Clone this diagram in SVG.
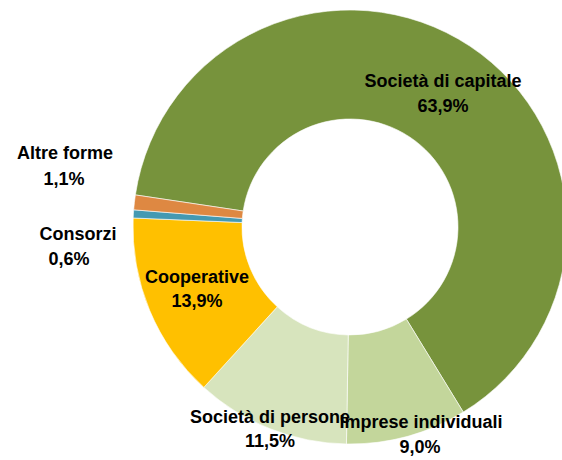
<svg xmlns="http://www.w3.org/2000/svg" width="562" height="460" viewBox="0 0 562 460">
<style>
.s{stroke:#ffffff;stroke-width:0.6}
.l{font-family:"Liberation Sans",Arial,sans-serif;font-weight:bold;font-size:18px;fill:#000;text-anchor:middle}
</style>
<rect width="562" height="460" fill="#ffffff"/>
<g id="capitale">
<path class="s" fill="#77933C" d="M135.38,194.93 A217,217 0 1 1 463.27,412.09 L406.37,319.12 A108,108 0 1 0 243.19,211.04 Z"/>
<text class="l" x="443" y="87">Società di capitale</text>
<text class="l" x="443" y="112">63,9%</text>
</g>
<g id="imprese">
<path class="s" fill="#C3D69B" d="M463.27,412.09 A217,217 0 0 1 346.44,443.97 L348.23,334.99 A108,108 0 0 0 406.37,319.12 Z"/>
</g>
<g id="persone">
<path class="s" fill="#D7E4BD" d="M346.44,443.97 A217,217 0 0 1 203.84,387.40 L277.26,306.83 A108,108 0 0 0 348.23,334.99 Z"/>
<text class="l" x="270" y="423">Società di persone</text>
<text class="l" x="270" y="447">11,5%</text>
</g>
<g id="imprese-label">
<text class="l" x="421" y="428">Imprese individuali</text>
<text class="l" x="420" y="453">9,0%</text>
</g>
<g id="cooperative">
<path class="s" fill="#FFC000" d="M203.84,387.40 A217,217 0 0 1 133.19,217.99 L242.09,222.52 A108,108 0 0 0 277.26,306.83 Z"/>
<text class="l" x="197" y="283">Cooperative</text>
<text class="l" x="197" y="307">13,9%</text>
</g>
<g id="consorzi">
<path class="s" fill="#4499B2" d="M133.19,217.99 A217,217 0 0 1 133.68,209.82 L242.34,218.45 A108,108 0 0 0 242.09,222.52 Z"/>
<text class="l" x="78" y="240">Consorzi</text>
<text class="l" x="69" y="265">0,6%</text>
</g>
<g id="altre">
<path class="s" fill="#DE8842" d="M133.68,209.82 A217,217 0 0 1 135.38,194.93 L243.19,211.04 A108,108 0 0 0 242.34,218.45 Z"/>
<text class="l" x="65" y="159">Altre forme</text>
<text class="l" x="64" y="185">1,1%</text>
</g>
</svg>
